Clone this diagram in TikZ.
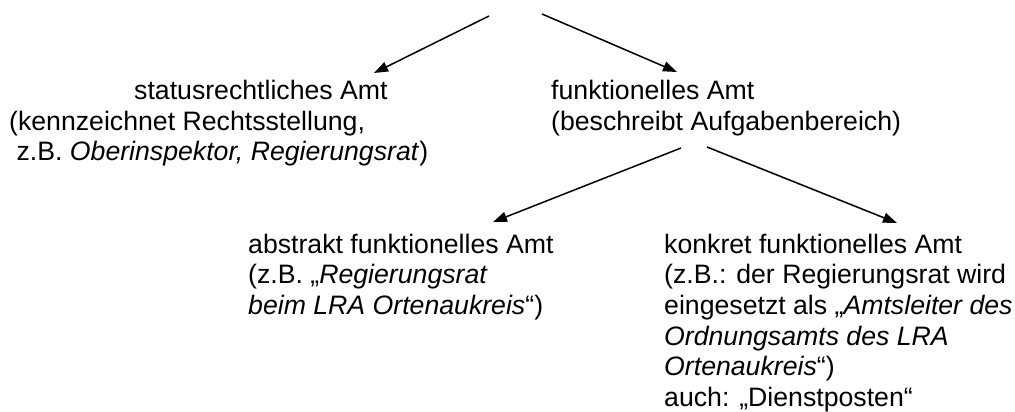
\documentclass[tikz,border=0pt]{standalone}
\usepackage{fontspec}
\setmainfont{Liberation Sans}
\usetikzlibrary{arrows.meta}
\begin{document}
\begin{tikzpicture}[x=1pt,y=-1pt,
  txt/.style={anchor=north west, inner sep=0pt, align=left, font=\fontsize{26.67}{30.67}\selectfont},
  arr/.style={line width=1.5pt, -{Triangle[length=14pt,width=10pt]}}]
\useasboundingbox (0,0) rectangle (1015,412);
\node[txt] (status) at (9,77.8) {\strut\hspace*{125pt}statusrechtliches Amt\\(kennzeichnet Rechtsstellung,\\\hspace*{7.4pt}z.B. \textit{Oberinspektor, Regierungsrat})};
\node[txt] (funk) at (551,77.8) {\strut funktionelles Amt\\(beschreibt Aufgabenbereich)};
\node[txt] (abstr) at (248,231.5) {\strut abstrakt funktionelles Amt\\(z.B. „\textit{Regierungsrat}\\\textit{beim LRA Ortenaukreis}“)};
\node[txt] (konkr) at (664,231.5) {\strut konkret funktionelles Amt\\(z.B.: der Regierungsrat wird\\eingesetzt als „\textit{Amtsleiter des}\\\textit{Ordnungsamts des LRA}\\\textit{Ortenaukreis}“)\\auch: „Dienstposten“};
\coordinate (t1) at (489,16);
\coordinate (h1) at (374,73);
\coordinate (t2) at (542,14);
\coordinate (h2) at (677,72);
\coordinate (t3) at (681,148);
\coordinate (h3) at (493,222);
\coordinate (t4) at (707,147);
\coordinate (h4) at (897,223);
\draw[arr] (t1) -- (h1);
\draw[arr] (t2) -- (h2);
\draw[arr] (t3) -- (h3);
\draw[arr] (t4) -- (h4);
\end{tikzpicture}
\end{document}
